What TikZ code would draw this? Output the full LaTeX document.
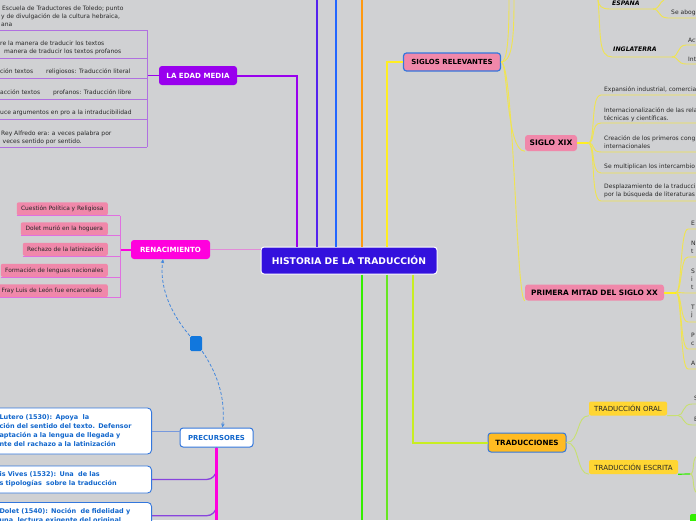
\documentclass[tikz,border=0pt]{standalone}
\usepackage{fontspec}
\setmainfont{DejaVu Sans}
\definecolor{bggray}{RGB}{208,209,211}
\definecolor{histblue}{RGB}{51,17,221}
\definecolor{edadviolet}{RGB}{153,0,238}
\definecolor{edadline}{RGB}{176,112,224}
\definecolor{indigoline}{RGB}{85,34,238}
\definecolor{blueline}{RGB}{34,102,255}
\definecolor{orangeline}{RGB}{255,153,17}
\definecolor{yellowline}{RGB}{255,238,34}
\definecolor{yellowthin}{RGB}{240,228,80}
\definecolor{greenA}{RGB}{51,238,0}
\definecolor{greenB}{RGB}{102,230,34}
\definecolor{greenC}{RGB}{200,238,34}
\definecolor{renmag}{RGB}{255,0,221}
\definecolor{renline}{RGB}{224,112,224}
\definecolor{renlink}{RGB}{226,140,216}
\definecolor{pinkfill}{RGB}{240,136,170}
\definecolor{framblue}{RGB}{51,119,221}
\definecolor{textblue}{RGB}{17,102,204}
\definecolor{trafill}{RGB}{255,187,34}
\definecolor{goldfill}{RGB}{255,214,51}
\definecolor{tralink}{RGB}{200,224,112}
\definecolor{precpurple}{RGB}{136,68,221}
\definecolor{preclink}{RGB}{119,153,221}
\definecolor{markblue}{RGB}{17,119,221}
\definecolor{relblue}{RGB}{68,136,221}
\definecolor{darktext}{RGB}{40,40,40}
\usetikzlibrary{arrows.meta}

\begin{document}
\begin{tikzpicture}[x=1pt,y=-1pt,
    topic/.style={rounded corners=3pt,inner sep=0pt,font=\bfseries\fontsize{7.1}{8}\selectfont},
    leaf/.style={inner sep=0pt,anchor=west,align=left,text=darktext,font=\fontsize{6}{7.8}\selectfont},
    pinkleaf/.style={rounded corners=2pt,fill=pinkfill,inner sep=0pt,minimum height=13pt,anchor=south east,text=darktext,font=\fontsize{5.9}{7}\selectfont},
    precleaf/.style={rounded corners=4pt,draw=framblue,line width=0.9pt,fill=white,inner xsep=4pt,inner ysep=4pt,text width=148pt,align=left,text=textblue,font=\bfseries\fontsize{6.5}{9}\selectfont},
    goldbox/.style={rounded corners=2pt,fill=goldfill,inner sep=0pt,minimum height=14pt,text=darktext,font=\fontsize{7}{8}\selectfont},
    country/.style={inner sep=0pt,anchor=west,font=\bfseries\itshape\fontsize{6.2}{7}\selectfont},
    branch/.style={line width=2pt},
    childline/.style={draw=yellowthin,line width=0.9pt},
    rellink/.style={draw=relblue,line width=0.8pt,dash pattern=on 3pt off 2pt,-{Stealth[length=4pt,width=3.5pt]}},
  ]
  \useasboundingbox (0,0) rectangle (696,520);
  \fill[bggray] (0,0) rectangle (696,520);
  \clip (0,0) rectangle (696,520);

  % main topic
  \node[topic,fill=histblue,draw=white,line width=1pt,text=white,minimum width=176pt,minimum height=27pt,
        font=\bfseries\fontsize{9.2}{11}\selectfont] (hist) at (349,260.5) {HISTORIA DE LA TRADUCCIÓN};

  % branches leaving the picture at the top
  \coordinate (topIndigo) at (317,0);
  \coordinate (topBlue) at (336,0);
  \coordinate (topOrange) at (361.5,0);
  \draw[branch,indigoline] (hist.north -| topIndigo) -- (topIndigo);
  \draw[branch,blueline] (hist.north -| topBlue) -- (topBlue);
  \draw[branch,orangeline] (hist.north -| topOrange) -- (topOrange);

  % branches leaving the picture at the bottom
  \coordinate (botGreenA) at (362,520);
  \coordinate (botGreenB) at (387,520);
  \draw[branch,greenA] (hist.south -| botGreenA) -- (botGreenA);
  \draw[branch,greenB] (hist.south -| botGreenB) -- (botGreenB);

  % la edad media
  \node[topic,fill=edadviolet,text=white,minimum width=78pt,minimum height=19pt] (edad) at (198,75.5) {LA EDAD MEDIA};
  \coordinate (edadTurn) at (297,75.5);
  \draw[branch,edadviolet] (hist.north -| edadTurn) -- (edadTurn) -- (edad.east);
  \coordinate (edadBar) at (147,75.5);
  \draw[edadviolet,line width=1.5pt] (edad.west) -- (edadBar);
  \draw[edadline,line width=0.8pt] (147,30) -- (147,147);
  \foreach \y in {30,58,78,99,119,147}
    \draw[edadline,line width=0.8pt] (0,\y) -- (147,\y);
  \node[leaf] (em1) at (1,16.5) {\hspace*{1pt}Escuela de Traductores de Toledo; punto\\y de divulgación de la cultura hebraica,\\ana};
  \node[leaf] (em2) at (0,48) {re la manera de traducir los textos\\\hspace*{4pt}manera de traducir los textos profanos};
  \node[leaf] (em3) at (0,72) {ción textos\hspace{13pt}religiosos: Traducción literal};
  \node[leaf] (em4) at (0,93) {acción textos\hspace{13pt}profanos: Traducción libre};
  \node[leaf] (em5) at (0,113) {uce argumentos en pro a la intraducibilidad};
  \node[leaf] (em6) at (1,137.5) {Rey Alfredo era: a veces palabra por\\\hspace*{1.5pt}veces sentido por sentido.};

  % renacimiento
  \node[topic,fill=renmag,text=white,minimum width=79pt,minimum height=19pt] (renac) at (170.5,249.5) {RENACIMIENTO};
  \draw[renlink,line width=1.3pt] (renac.east) -- (renac.east -| hist.west);
  \coordinate (renBar) at (120,249.5);
  \draw[renmag,line width=2pt] (renac.west) -- (renBar);
  \node[pinkleaf,minimum width=91pt] (rn1) at (108,215.5) {Cuestión Política y Religiosa};
  \node[pinkleaf,minimum width=87pt] (rn2) at (108,235.5) {Dolet murió en la hoguera};
  \node[pinkleaf,minimum width=85pt] (rn3) at (108,256) {Rechazo de la latinización};
  \node[pinkleaf,minimum width=107pt] (rn4) at (108,277) {Formación de lenguas nacionales};
  \node[pinkleaf,minimum width=112pt] (rn5) at (108,297.5) {Fray Luis de León fue encarcelado};
  \draw[renline,line width=0.8pt] (rn1.south -| renBar) -- (rn5.south -| renBar);
  \foreach \n in {rn1,rn2,rn3,rn4,rn5}
    \draw[renline,line width=0.8pt] (\n.south west) -- (\n.south -| renBar);

  % precursores
  \node[topic,fill=white,draw=framblue,line width=1pt,text=textblue,minimum width=73pt,minimum height=19pt,
        font=\bfseries\fontsize{6.9}{8}\selectfont] (prec) at (216.5,437.5) {PRECURSORES};
  \node[precleaf,anchor=east,minimum height=46pt] (lutero) at (152,431)
    {Lutero (1530): Apoya\ \ la\\ción del sentido del texto. Defensor\\aptación a la lengua de llegada y\\nte del rachazo a la latinización};
  \node[precleaf,anchor=east,minimum height=27pt] (vives) at (152,479.5)
    {is Vives (1532): Una\ \ de las\\s tipologías\ \ sobre la traducción};
  \node[precleaf,anchor=north east,inner ysep=5.5pt] (dolet) at (152,502)
    {Dolet (1540): Noción\ \ de fidelidad y\\una\ \ lectura exigente del original};
  \draw[preclink,line width=1pt] (lutero.east) -- (lutero.east -| prec.west);
  \draw[precpurple,line width=1.3pt,rounded corners=10pt] (vives.east) -| (prec.south);
  \draw[precpurple,line width=1.3pt,rounded corners=10pt] (dolet.east) -| (prec.south);
  \coordinate (precBot) at (216.5,520);
  \draw[renmag,line width=2.5pt] (prec.south) -- (precBot);

  % relation between precursores and renacimiento
  \node[fill=markblue,rounded corners=1.5pt,minimum width=12pt,minimum height=15pt,inner sep=0pt] (relmark) at (196,343.5) {};
  \draw[rellink] (relmark.north west) .. controls (172,315) and (159,288) .. ([xshift=-7.5pt]renac.south);
  \draw[rellink] (relmark.south east) .. controls (215,370) and (226,395) .. ([xshift=6pt]prec.north);

  % siglos relevantes
  \node[topic,fill=pinkfill,draw=framblue,line width=1.2pt,minimum width=97pt,minimum height=18pt,
        font=\bfseries\fontsize{7}{8}\selectfont] (siglos) at (452,62) {SIGLOS RELEVANTES};
  \coordinate (siglTurn) at (387,62);
  \draw[branch,yellowline] (hist.north -| siglTurn) -- (siglTurn) -- (siglos.west);
  \coordinate (siglUpA) at (509,0);
  \coordinate (siglUpB) at (514,0);
  \draw[childline] (siglos.east) .. controls (507,62) and (509,40) .. (siglUpA);
  \draw[childline] (siglos.east) .. controls (512,62) and (514,40) .. (siglUpB);

  \node[topic,fill=pinkfill,minimum width=52pt,minimum height=16pt,font=\bfseries\fontsize{7.6}{9}\selectfont] (xix) at (551,143) {SIGLO XIX};
  \node[topic,fill=pinkfill,minimum width=139pt,minimum height=16pt,font=\bfseries\fontsize{7.4}{9}\selectfont] (prim) at (594.5,292.5) {PRIMERA MITAD DEL SIGLO XX};
  \draw[childline] (siglos.east) .. controls (508,62) and (506,151) .. (xix.south west);
  \draw[childline] (siglos.east) .. controls (514,62) and (516,300.5) .. (prim.south west);

  \coordinate (xixFork) at (588,143);
  \draw[yellowline,line width=2pt] (xix.east) -- (xixFork);
  \foreach \uy in {95,123,152,173,201}
    \draw[childline] (xixFork) .. controls (596,143) and (590,\uy) .. (601,\uy) -- (700,\uy);
  \node[leaf] (xa) at (604,90) {Expansión industrial, comercia};
  \node[leaf] (xb) at (604,114.5) {Internacionalización de las rela\\técnicas y científicas.};
  \node[leaf] (xc) at (604,142.5) {Creación de los primeros cong\\internacionales};
  \node[leaf] (xd) at (604,167) {Se multiplican los intercambio};
  \node[leaf] (xe) at (604,191) {Desplazamiento de la traducci\\por la búsqueda de literaturas};

  \coordinate (primFork) at (676,292.5);
  \draw[yellowline,line width=2pt] (prim.east) -- (primFork);
  \foreach \uy in {229,257,293,322,349,369}
    \draw[childline] (primFork) .. controls (682,292.5) and (680,\uy) .. (688,\uy) -- (700,\uy);
  \node[leaf] (pa) at (691,223) {E};
  \node[leaf] (pb) at (691,247) {N\\t};
  \node[leaf] (pc) at (691,279) {S\\i\\t};
  \node[leaf] (pd) at (691,311.5) {T\\j};
  \node[leaf] (pe) at (691,339) {P\\c};
  \node[leaf] (pf) at (691,363) {A};

  % countries at the top right
  \coordinate (ctyTop) at (598,0);
  \draw[childline] (ctyTop) .. controls (599,6) and (601,9) .. (610,9) -- (653,9);
  \draw[childline] (ctyTop) .. controls (601,35) and (598,57) .. (612,57) -- (672,57);
  \node[country] (espana) at (612,2.5) {ESPAÑA};
  \node[country] (inglat) at (613,49) {INGLATERRA};
  \coordinate (espUp) at (664,0);
  \draw[childline] (653,9) .. controls (660,9) and (659,2) .. (espUp);
  \draw[childline] (653,9) .. controls (660,9) and (658,18) .. (668,18) -- (700,18);
  \node[leaf] (aboga) at (671,13) {Se aboga};
  \draw[childline] (672,57) .. controls (679,57) and (677,45) .. (686,45) -- (700,45);
  \draw[childline] (672,57) .. controls (679,57) and (677,64) .. (686,64) -- (700,64);
  \node[leaf] (act) at (688,40) {Act};
  \node[leaf] (inte) at (688,59) {Int};

  % traducciones
  \node[topic,fill=trafill,draw=framblue,line width=1pt,minimum width=78pt,minimum height=19pt,
        font=\bfseries\fontsize{7.2}{8}\selectfont] (tradu) at (527,442.5) {TRADUCCIONES};
  \coordinate (traTurn) at (413,442.5);
  \draw[branch,greenC] (hist.south -| traTurn) -- (traTurn) -- (tradu.west);
  \node[goldbox,minimum width=78pt] (oral) at (628,408.5) {TRADUCCIÓN ORAL};
  \node[goldbox,minimum width=89pt] (escr) at (633.5,467) {TRADUCCIÓN ESCRITA};
  \draw[tralink,line width=0.9pt] (tradu.east) .. controls (580,442.5) and (576,415.5) .. (oral.south west);
  \draw[tralink,line width=0.9pt] (tradu.east) .. controls (580,442.5) and (576,474) .. (escr.south west);
  \coordinate (oralFork) at (678,415.5);
  \draw[tralink,line width=0.9pt] (oral.south east) -- (oralFork);
  \draw[tralink,line width=0.9pt] (oralFork) .. controls (684,415.5) and (682,404) .. (692,404) -- (700,404);
  \draw[tralink,line width=0.9pt] (oralFork) .. controls (684,415.5) and (682,425) .. (692,425) -- (700,425);
  \node[leaf] (os) at (694,398) {S};
  \node[leaf] (oe) at (694,419) {E};
  \coordinate (escrFork) at (690,474);
  \draw[greenA,line width=1.2pt] (escr.south east) -- (escrFork);
  \draw[tralink,line width=0.9pt] (escrFork) .. controls (696,474) and (690,455) .. (700,455);
  \draw[tralink,line width=0.9pt] (escrFork) .. controls (696,474) and (690,494) .. (700,494);
  \fill[greenA,rounded corners=2pt] (690,514) rectangle (702,528);
\end{tikzpicture}
\end{document}
